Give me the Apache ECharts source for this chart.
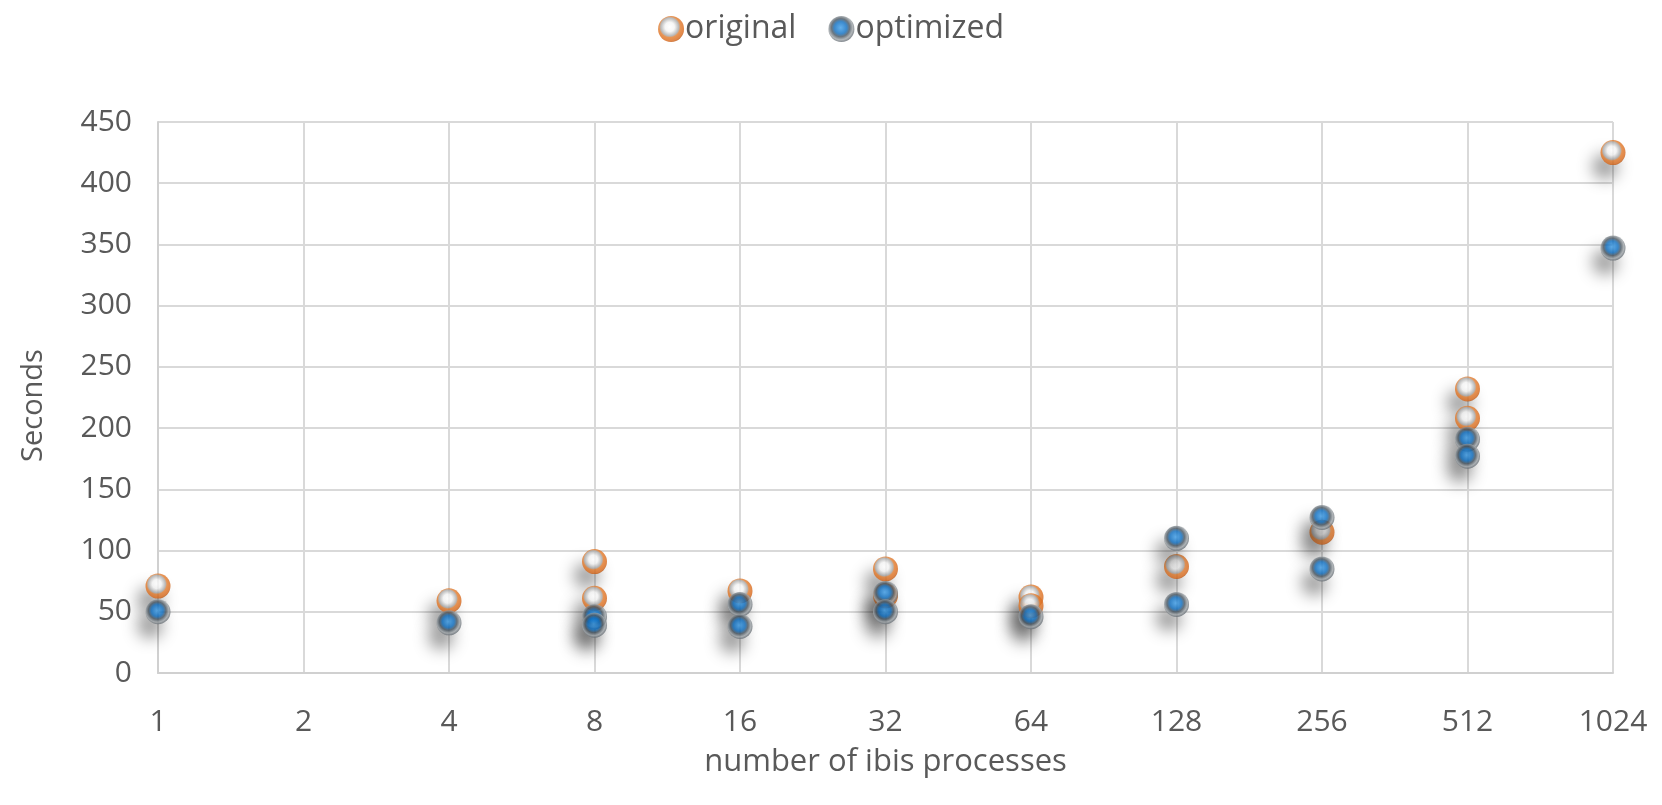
<!DOCTYPE html>
<html><head><meta charset="utf-8">
<script src="https://cdn.jsdelivr.net/npm/echarts@6/dist/echarts.min.js"></script>
<style>html,body{margin:0;padding:0;background:#fff}#c{width:1662px;height:805px}</style>
</head><body><div id="c"></div>
<script>
const categories = ['1','2','4','8','16','32','64','128','256','512','1024'];
const originalX = ['1','4','8','8','16','32','32','64','64','128','256','512','512','1024'];
const originalY = [71, 59, 91, 61, 67, 85, 63, 62, 55, 87, 115, 232, 208, 425];
const optimizedX = ['1','4','8','8','16','16','32','32','64','128','128','256','256','512','512','1024'];
const optimizedY = [50, 41, 46, 39, 56, 38, 65, 50, 46, 110, 56, 127, 85, 191, 177, 347];
const yTicks = {min: 0, max: 450, interval: 50};

const FONT = '"Open Sans", sans-serif';
const origColor = {type:'radial', x:0.45, y:0.42, r:0.6, colorStops:[
  {offset:0, color:'#ffffff'}, {offset:0.3, color:'#f4f4f4'}, {offset:0.58, color:'#a8a8a8'},
  {offset:0.68, color:'#e27a2a'}, {offset:0.9, color:'#d9691c'}, {offset:1, color:'#b5520e'}]};
const optColor = {type:'radial', x:0.47, y:0.45, r:0.58, colorStops:[
  {offset:0, color:'#3b9be6'}, {offset:0.4, color:'#0a6cc0'}, {offset:0.6, color:'#46535e'},
  {offset:0.8, color:'#9ea4a8'}, {offset:1, color:'#505860'}]};

function pairs(xs, ys){ return xs.map((x,i)=>[x, ys[i]]); }

const chart = echarts.init(document.getElementById('c'));
chart.setOption({
  animation:false,
  backgroundColor:'#fff',
  textStyle:{fontFamily:FONT},
  legend:{
    top:8, left:'center', itemWidth:26, itemHeight:26, itemGap:32,
    textStyle:{fontFamily:FONT, fontSize:32, color:'#595959', padding:[0,0,0,-4]},
    data:[{name:'original', icon:'circle', itemStyle:{color:origColor}},{name:'optimized', icon:'circle', itemStyle:{color:optColor}}]
  },
  grid:{left:158, right:49, top:122, bottom:132},
  xAxis:{
    type:'category', data:categories, boundaryGap:false,
    name:'number of ibis processes', nameLocation:'middle', nameGap:74,
    nameTextStyle:{fontFamily:FONT, fontSize:31, color:'#595959'},
    axisLine:{show:true, lineStyle:{color:'#d0d0d0', width:2}},
    axisTick:{show:false},
    axisLabel:{fontFamily:FONT, fontSize:30, color:'#595959', margin:34},
    splitLine:{show:true, lineStyle:{color:'#d9d9d9', width:2}}
  },
  yAxis:{
    type:'value', min:yTicks.min, max:yTicks.max, interval:yTicks.interval,
    name:'Seconds', nameLocation:'middle', nameGap:110, nameRotate:90,
    nameTextStyle:{fontFamily:FONT, fontSize:29, color:'#595959', padding:[0,0,0,-16]},
    axisLine:{show:true, lineStyle:{color:'#d0d0d0', width:2}},
    axisTick:{show:false},
    axisLabel:{fontFamily:FONT, fontSize:30, color:'#595959', margin:26},
    splitLine:{show:true, lineStyle:{color:'#d9d9d9', width:2}}
  },
  series:[
    {name:'original', type:'scatter', symbol:'circle', symbolSize:25, data:pairs(originalX, originalY), z:2,
     itemStyle:{color:origColor, shadowColor:'rgba(0,0,0,0.5)', shadowBlur:16, shadowOffsetX:-8, shadowOffsetY:14}},
    {name:'optimized', type:'scatter', symbol:'circle', symbolSize:25, data:pairs(optimizedX, optimizedY), z:3,
     itemStyle:{color:optColor, shadowColor:'rgba(0,0,0,0.5)', shadowBlur:16, shadowOffsetX:-8, shadowOffsetY:14}}
  ]
});
</script></body></html>
